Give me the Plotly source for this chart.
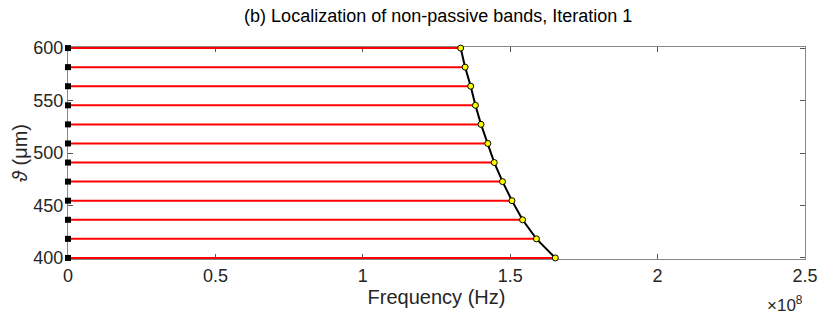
import plotly.graph_objects as go

# Band positions (um) and band edge frequencies (Hz)
theta = [600, 581.82, 563.64, 545.45, 527.27, 509.09, 490.91, 472.73, 454.55, 436.36, 418.18, 400]
f_edge = [1.332e8, 1.347e8, 1.366e8, 1.382e8, 1.401e8, 1.424e8,
          1.446e8, 1.474e8, 1.506e8, 1.542e8, 1.589e8, 1.653e8]
f_start = [0] * len(theta)

x_ticks = [0, 0.5e8, 1e8, 1.5e8, 2e8, 2.5e8]
x_ticktext = ['0', '0.5', '1', '1.5', '2', '2.5']
y_ticks = [400, 450, 500, 550, 600]

# Build red segments from start to edge
seg_x, seg_y = [], []
for a, b, t in zip(f_start, f_edge, theta):
    seg_x += [a, b, None]
    seg_y += [t, t, None]

fig = go.Figure()

fig.add_trace(go.Scatter(x=seg_x, y=seg_y, mode='lines',
                         line=dict(color='#ff0000', width=2), hoverinfo='skip',
                         cliponaxis=False))

fig.add_trace(go.Scatter(x=f_edge, y=theta, mode='lines+markers',
                         line=dict(color='black', width=2),
                         marker=dict(color='#ffff00', size=6, line=dict(color='black', width=1)),
                         cliponaxis=False))

fig.add_trace(go.Scatter(x=f_start, y=theta, mode='markers',
                         marker=dict(color='black', size=6, symbol='square'),
                         cliponaxis=False))

font = 'Liberation Sans, Arial, sans-serif'
fig.update_layout(
    width=830, height=323,
    margin=dict(l=68, r=21, t=47, b=64),
    paper_bgcolor='white', plot_bgcolor='white',
    showlegend=False,
    font=dict(family=font, color='#262626', size=18),
    title=dict(text='(b) Localization of non-passive bands, Iteration 1',
               x=0.528, xanchor='center', y=0.95, yanchor='middle',
               font=dict(size=18, color='black')),
    xaxis=dict(range=[0, 2.5e8], tickvals=x_ticks, ticktext=x_ticktext,
               ticks='inside', ticklen=5, tickcolor='#555', showgrid=False,
               zeroline=False, showline=True, linecolor='#888', linewidth=1, mirror='ticks',
               layer='below traces',
               title=dict(text='Frequency (Hz)', font=dict(size=20), standoff=2),
               tickfont=dict(size=18)),
    yaxis=dict(range=[399, 601], tickvals=y_ticks,
               ticks='inside', ticklen=5, tickcolor='#555', showgrid=False,
               zeroline=False, showline=True, linecolor='#888', linewidth=1, mirror='ticks',
               layer='below traces',
               title=dict(text='<i>ϑ</i> (μm)', font=dict(size=20), standoff=0),
               tickfont=dict(size=18)),
)

fig.add_annotation(text='×10<sup>8</sup>', xref='paper', yref='paper',
                   x=1.0, y=-0.15, xanchor='right', yanchor='top',
                   showarrow=False, font=dict(size=17, color='#262626'))

fig.write_html("out.html", config={'displayModeBar': False},
               post_script="document.body.style.margin='0';")
